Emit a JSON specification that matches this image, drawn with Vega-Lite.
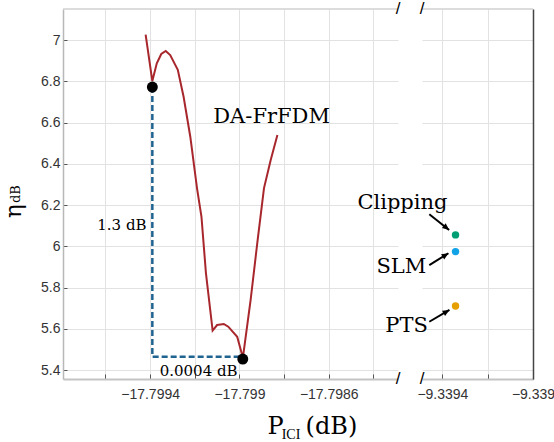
{
  "$schema": "https://vega.github.io/schema/vega-lite/v6.json",
  "background": "white",
  "padding": {"left": 2, "top": 0, "right": 0, "bottom": 0},
  "config": {
    "view": {"stroke": null},
    "axis": {
      "labelFont": "Liberation Sans",
      "labelFontSize": 14,
      "labelColor": "#333333",
      "gridColor": "#e2e2e2",
      "gridWidth": 1,
      "tickColor": "#555555",
      "labelFlush": false,
      "labelOverlap": false
    }
  },
  "datasets": {
    "curve": [
      {"p": -17.79942, "eta": 7.026},
      {"p": -17.79939, "eta": 6.801},
      {"p": -17.79937, "eta": 6.887},
      {"p": -17.79935, "eta": 6.932},
      {"p": -17.79933, "eta": 6.947},
      {"p": -17.79931, "eta": 6.927},
      {"p": -17.799276, "eta": 6.855},
      {"p": -17.79925, "eta": 6.725},
      {"p": -17.79922, "eta": 6.531},
      {"p": -17.79919, "eta": 6.282},
      {"p": -17.79917, "eta": 6.143},
      {"p": -17.79915, "eta": 5.87},
      {"p": -17.79912, "eta": 5.591},
      {"p": -17.7991, "eta": 5.618},
      {"p": -17.79907, "eta": 5.623},
      {"p": -17.79905, "eta": 5.61},
      {"p": -17.79901, "eta": 5.561},
      {"p": -17.79899, "eta": 5.481},
      {"p": -17.798985, "eta": 5.455},
      {"p": -17.79895, "eta": 5.739},
      {"p": -17.79892, "eta": 6.016},
      {"p": -17.79889, "eta": 6.282},
      {"p": -17.79886, "eta": 6.418},
      {"p": -17.79883, "eta": 6.539}
    ],
    "gap": [
      {"k": 1, "p": -17.79939, "eta": 6.772},
      {"k": 2, "p": -17.79939, "eta": 5.4645},
      {"k": 3, "p": -17.798985, "eta": 5.4645}
    ],
    "optimum": [
      {"p": -17.79939, "eta": 6.772},
      {"p": -17.798985, "eta": 5.453}
    ],
    "schemes": [
      {"scheme": "Clipping", "p": -9.339342, "eta": 6.055},
      {"scheme": "SLM", "p": -9.339342, "eta": 5.974},
      {"scheme": "PTS", "p": -9.339342, "eta": 5.71}
    ],
    "arrows": [
      {"scheme": "Clipping", "p": -9.3394578, "eta": 6.155, "p2": -9.3393702, "eta2": 6.079},
      {"scheme": "SLM", "p": -9.3394578, "eta": 5.909, "p2": -9.3393733, "eta2": 5.966},
      {"scheme": "PTS", "p": -9.3394578, "eta": 5.634, "p2": -9.3393689, "eta2": 5.691}
    ]
  },
  "bounds": "flush",
  "spacing": 24,
  "hconcat": [
    {
      "width": 335,
      "height": 370,
      "encoding": {
        "x": {
          "field": "p",
          "type": "quantitative",
          "scale": {"domain": [-17.79979, -17.79829], "nice": false, "zero": false},
          "axis": {
            "title": null,
            "grid": true,
            "values": [-17.7996, -17.7994, -17.7992, -17.799, -17.7988, -17.7986, -17.7984],
            "labelExpr": "abs(datum.value + 17.7994) < 1e-6 || abs(datum.value + 17.799) < 1e-6 || abs(datum.value + 17.7986) < 1e-6 ? format(datum.value, '.6~g') : ''",
            "tickSize": -5,
            "labelPadding": 13,
            "domainColor": "#c4c4c4",
            "domainWidth": 2
          }
        },
        "y": {
          "field": "eta",
          "type": "quantitative",
          "scale": {"domain": [5.3564, 7.1503], "nice": false, "zero": false},
          "axis": {
            "title": null,
            "grid": true,
            "values": [5.4, 5.6, 5.8, 6, 6.2, 6.4, 6.6, 6.8, 7],
            "format": ".1~f",
            "tickSize": -4,
            "labelPadding": 7,
            "domainColor": "#b8b8b8",
            "domainWidth": 1.5
          }
        }
      },
      "layer": [
        {
          "data": {"values": [{"p": -17.79979, "p2": -17.79829, "eta": 7.1503}]},
          "mark": {"type": "rule", "color": "#d0d0d0", "strokeWidth": 1.5},
          "encoding": {"x2": {"field": "p2"}}
        },
        {
          "data": {"name": "curve"},
          "mark": {"type": "line", "color": "#a8272d", "strokeWidth": 2}
        },
        {
          "data": {"name": "gap"},
          "mark": {"type": "line", "color": "#1f6390", "strokeWidth": 2.5, "strokeDash": [6, 3]},
          "encoding": {"order": {"field": "k"}}
        },
        {
          "data": {"name": "optimum"},
          "mark": {"type": "point", "filled": true, "color": "black", "size": 120, "opacity": 1}
        },
        {
          "data": {"values": [{"p": -17.798856, "eta": 6.598, "label": "DA-FrFDM"}]},
          "mark": {"type": "text", "font": "DejaVu Serif", "fontSize": 21, "align": "center", "baseline": "alphabetic", "color": "black"},
          "encoding": {"text": {"field": "label"}}
        },
        {
          "data": {"values": [{"p": -17.799416, "eta": 6.079, "label": "1.3 dB"}]},
          "mark": {"type": "text", "font": "DejaVu Serif", "fontSize": 15, "align": "right", "baseline": "alphabetic", "color": "black"},
          "encoding": {"text": {"field": "label"}}
        },
        {
          "data": {"values": [{"p": -17.799357, "eta": 5.372, "label": "0.0004 dB"}]},
          "mark": {"type": "text", "font": "DejaVu Serif", "fontSize": 15, "align": "left", "baseline": "alphabetic", "color": "black"},
          "encoding": {"text": {"field": "label"}}
        },
        {
          "data": {"values": [
            {"p": -17.798874, "eta": 5.0897, "label": "P"},
            {"p": -17.798704, "eta": 5.0897, "label": "(dB)"}
          ]},
          "mark": {"type": "text", "font": "DejaVu Serif", "fontSize": 24, "align": "left", "baseline": "alphabetic", "color": "black"},
          "encoding": {"text": {"field": "label"}}
        },
        {
          "data": {"values": [{"p": -17.798811, "eta": 5.0655, "label": "ICI"}]},
          "mark": {"type": "text", "font": "Liberation Serif", "fontSize": 14, "align": "left", "baseline": "alphabetic", "color": "black"},
          "encoding": {"text": {"field": "label"}}
        },
        {
          "data": {"values": [{"p": -17.79998, "eta": 6.171, "label": "η"}]},
          "mark": {"type": "text", "font": "DejaVu Serif", "fontSize": 23, "angle": 270, "align": "center", "baseline": "alphabetic", "color": "black"},
          "encoding": {"text": {"field": "label"}}
        },
        {
          "data": {"values": [{"p": -17.799984, "eta": 6.253, "label": "dB"}]},
          "mark": {"type": "text", "font": "DejaVu Serif", "fontSize": 13, "angle": 270, "align": "center", "baseline": "alphabetic", "color": "black"},
          "encoding": {"text": {"field": "label"}}
        },
        {
          "data": {"values": [
            {"p": -17.79829, "eta": 7.1503, "label": "/"},
            {"p": -17.79829, "eta": 5.3564, "label": "/"}
          ]},
          "mark": {"type": "text", "font": "Liberation Sans", "fontSize": 17, "align": "center", "baseline": "middle", "color": "black"},
          "encoding": {"text": {"field": "label"}}
        }
      ]
    },
    {
      "width": 111,
      "height": 370,
      "encoding": {
        "x": {
          "field": "p",
          "type": "quantitative",
          "scale": {"domain": [-9.33949, -9.339], "nice": false, "zero": false},
          "axis": {
            "title": null,
            "grid": true,
            "values": [-9.3394, -9.3392, -9.339],
            "labelExpr": "abs(datum.value + 9.3392) < 1e-6 ? '' : format(datum.value, '.6~g')",
            "tickSize": -5,
            "labelPadding": 13,
            "domainColor": "#c4c4c4",
            "domainWidth": 2
          }
        },
        "y": {
          "field": "eta",
          "type": "quantitative",
          "scale": {"domain": [5.3564, 7.1503], "nice": false, "zero": false},
          "axis": {
            "orient": "right",
            "title": null,
            "grid": true,
            "labels": false,
            "ticks": false,
            "values": [5.4, 5.6, 5.8, 6, 6.2, 6.4, 6.6, 6.8, 7],
            "domainColor": "#444444",
            "domainWidth": 1.5
          }
        }
      },
      "layer": [
        {
          "data": {"values": [{"p": -9.33949, "p2": -9.339, "eta": 7.1503}]},
          "mark": {"type": "rule", "color": "#d0d0d0", "strokeWidth": 1.5},
          "encoding": {"x2": {"field": "p2"}}
        },
        {
          "data": {"name": "arrows"},
          "mark": {"type": "rule", "color": "black", "strokeWidth": 2},
          "encoding": {"x2": {"field": "p2"}, "y2": {"field": "eta2"}}
        },
        {
          "data": {"values": [{"p": -9.3393702, "eta": 6.079}]},
          "mark": {"type": "point", "filled": true, "color": "black", "opacity": 1, "size": 64, "shape": "M0,0L-1.7,-0.75L-1.7,0.75Z", "angle": 38.6}
        },
        {
          "data": {"values": [{"p": -9.3393733, "eta": 5.966}]},
          "mark": {"type": "point", "filled": true, "color": "black", "opacity": 1, "size": 64, "shape": "M0,0L-1.7,-0.75L-1.7,0.75Z", "angle": -31.6}
        },
        {
          "data": {"values": [{"p": -9.3393689, "eta": 5.691}]},
          "mark": {"type": "point", "filled": true, "color": "black", "opacity": 1, "size": 64, "shape": "M0,0L-1.7,-0.75L-1.7,0.75Z", "angle": -30.3}
        },
        {
          "data": {"name": "schemes"},
          "mark": {"type": "point", "filled": true, "size": 55, "opacity": 1},
          "encoding": {
            "color": {
              "field": "scheme",
              "type": "nominal",
              "scale": {"domain": ["Clipping", "SLM", "PTS"], "range": ["#009e73", "#12a2e6", "#e69f00"]},
              "legend": null
            }
          }
        },
        {
          "data": {"values": [{"p": -9.3395764, "eta": 6.181, "label": "Clipping"}]},
          "mark": {"type": "text", "font": "DejaVu Serif", "fontSize": 21, "align": "center", "baseline": "alphabetic", "color": "black"},
          "encoding": {"text": {"field": "label"}}
        },
        {
          "data": {"values": [
            {"p": -9.339471, "eta": 5.869, "label": "SLM"},
            {"p": -9.339464, "eta": 5.586, "label": "PTS"}
          ]},
          "mark": {"type": "text", "font": "DejaVu Serif", "fontSize": 21, "align": "right", "baseline": "alphabetic", "color": "black"},
          "encoding": {"text": {"field": "label"}}
        },
        {
          "data": {"values": [
            {"p": -9.33949, "eta": 7.1503, "label": "/"},
            {"p": -9.33949, "eta": 5.3564, "label": "/"}
          ]},
          "mark": {"type": "text", "font": "Liberation Sans", "fontSize": 17, "align": "center", "baseline": "middle", "color": "black"},
          "encoding": {"text": {"field": "label"}}
        }
      ]
    }
  ]
}
